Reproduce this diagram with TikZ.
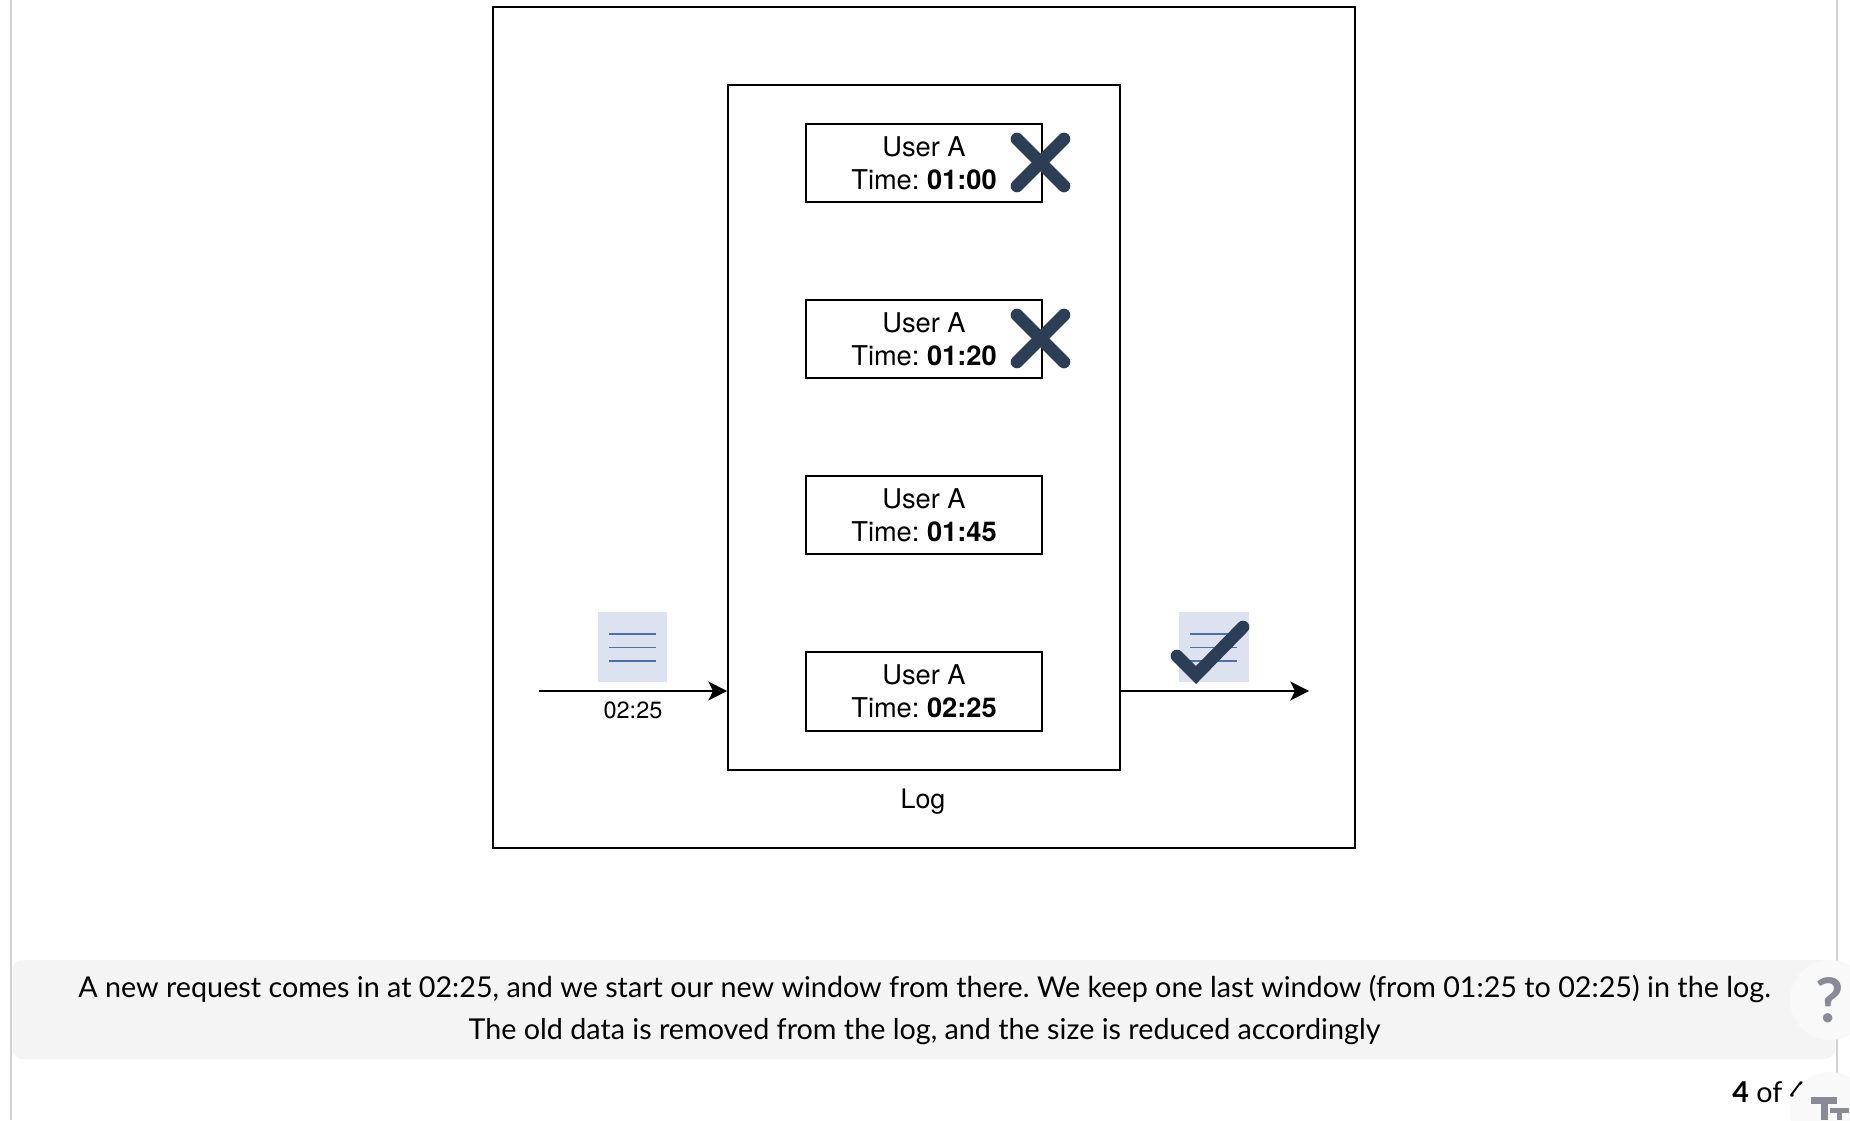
\documentclass[tikz,border=0pt]{standalone}
\usepackage{fontspec}
\usepackage{tikz}
\usetikzlibrary{arrows.meta}
\setmainfont{TeX Gyre Heros}
\newfontfamily\capfont{Lato}
\definecolor{markdark}{HTML}{2C3E55}
\definecolor{docfill}{HTML}{DCE2F0}
\definecolor{docline}{HTML}{4E6FA8}
\definecolor{capfill}{HTML}{F4F4F4}
\definecolor{edgegray}{HTML}{D2D2D6}
\definecolor{btnfill}{HTML}{F9F9F9}
\definecolor{btnmark}{HTML}{8A8A96}
\tikzset{
  framebox/.style={draw=black,line width=1.15pt},
  entrybox/.style={draw=black,line width=1.1pt,fill=white,minimum width=4.72cm,minimum height=1.57cm,inner sep=0pt,align=center,font=\fontsize{15.5}{18.8}\selectfont},
  reqarrow/.style={draw=black,line width=1.15pt,-{Stealth[length=10.6pt,width=10.8pt,inset=2.6pt]}},
  docicon/.style={fill=docfill,draw=none,minimum width=1.4cm,minimum height=1.4cm,inner sep=0pt},
  docrule/.style={draw=docline,line width=0.95pt},
  markline/.style={draw=markdark,line width=7.2pt},
  captext/.style={font=\capfont\fontsize{16.35}{16.35}\selectfont,inner sep=0pt},
  btncircle/.style={circle,fill=btnfill,draw=none,minimum size=1.6cm,inner sep=0pt}
}
\frenchspacing
\begin{document}
\begin{tikzpicture}[x=0.02cm,y=-0.02cm]
\useasboundingbox (0,0) rectangle (1850,1120);
\clip (0,0) rectangle (1850,1120);
\fill [white] (0,0) rectangle (1850,1120);
% page edges
\draw [edgegray,line width=1.2pt] (10.7,0) -- (10.7,1120);
\draw [edgegray,line width=1.2pt] (1837,0) -- (1837,1120);
% outer frame and log
\node (outerbox) [framebox,minimum width=17.24cm,minimum height=16.82cm,inner sep=0pt] at (924,427.5) {};
\node (logbox) [framebox,minimum width=7.84cm,minimum height=13.7cm,inner sep=0pt] at (924,427.5) {};
\node (loglabel) [font=\fontsize{15.3}{18}\selectfont,inner sep=0pt] at (923,801.5) {Log};
\node (entrya) [entrybox] at (924,163) {User A\\Time: \textbf{01:00}};
\node (entryb) [entrybox] at (924,339) {User A\\Time: \textbf{01:20}};
\node (entryc) [entrybox] at (924,515) {User A\\Time: \textbf{01:45}};
\node (entryd) [entrybox] at (924,691.5) {User A\\Time: \textbf{02:25}};
% crosses
\draw [markline,line cap=round] (1017,139) -- (1064,186);
\draw [markline,line cap=round] (1017,186) -- (1064,139);
\draw [markline,line cap=round] (1017,315) -- (1064,362);
\draw [markline,line cap=round] (1017,362) -- (1064,315);
% incoming request
\node (docin) [docicon] at (632.5,647) {};
\draw [docrule] (609,634) -- (656,634);
\draw [docrule] (609,647.5) -- (656,647.5);
\draw [docrule] (609,661) -- (656,661);
\coordinate (reqstart) at (539,691);
\draw [reqarrow] (reqstart) -- (reqstart -| logbox.west);
\node (reqtime) [font=\fontsize{13.4}{16}\selectfont,inner sep=0pt] at (633,710.5) {02:25};
% outgoing request
\node (docout) [docicon] at (1213.5,647) {};
\draw [docrule] (1190,634) -- (1237,634);
\draw [docrule] (1190,647.5) -- (1237,647.5);
\draw [docrule] (1190,661) -- (1237,661);
\coordinate (reqend) at (1309,691);
\draw [reqarrow] (reqend -| logbox.east) -- (reqend);
\draw [markline,line cap=round,line join=miter] (1177,656) -- (1196,675) -- (1243,627);
% caption
\fill [capfill,rounded corners=6pt] (12.5,960) rectangle (1835,1059);
\node (capone) [captext] at (924.5,989) {A new request comes in at 02:25, and we start our new window from there. We keep one last window (from 01:25 to 02:25) in the log.};
\node (captwo) [captext] at (924.5,1031.5) {The old data is removed from the log, and the size is reduced accordingly};
% page counter and buttons
\node (pagecount) [captext,anchor=base west] at (1732,1102) {\textbf{4} of 4};
\node (helpbtn) [btncircle] at (1830,1000) {};
\node (helpmark) [font=\capfont\bfseries\fontsize{35}{35}\selectfont,text=btnmark,inner sep=0pt] at (1830,1000) {?};
\node (textbtn) [btncircle] at (1830,1112) {};
\fill [btnmark] (1811,1097) rectangle (1837,1104);
\fill [btnmark] (1820.5,1097) rectangle (1827.5,1120);
\fill [btnmark] (1830,1108) rectangle (1849,1113);
\fill [btnmark] (1837,1108) rectangle (1842,1120);
\end{tikzpicture}
\end{document}
